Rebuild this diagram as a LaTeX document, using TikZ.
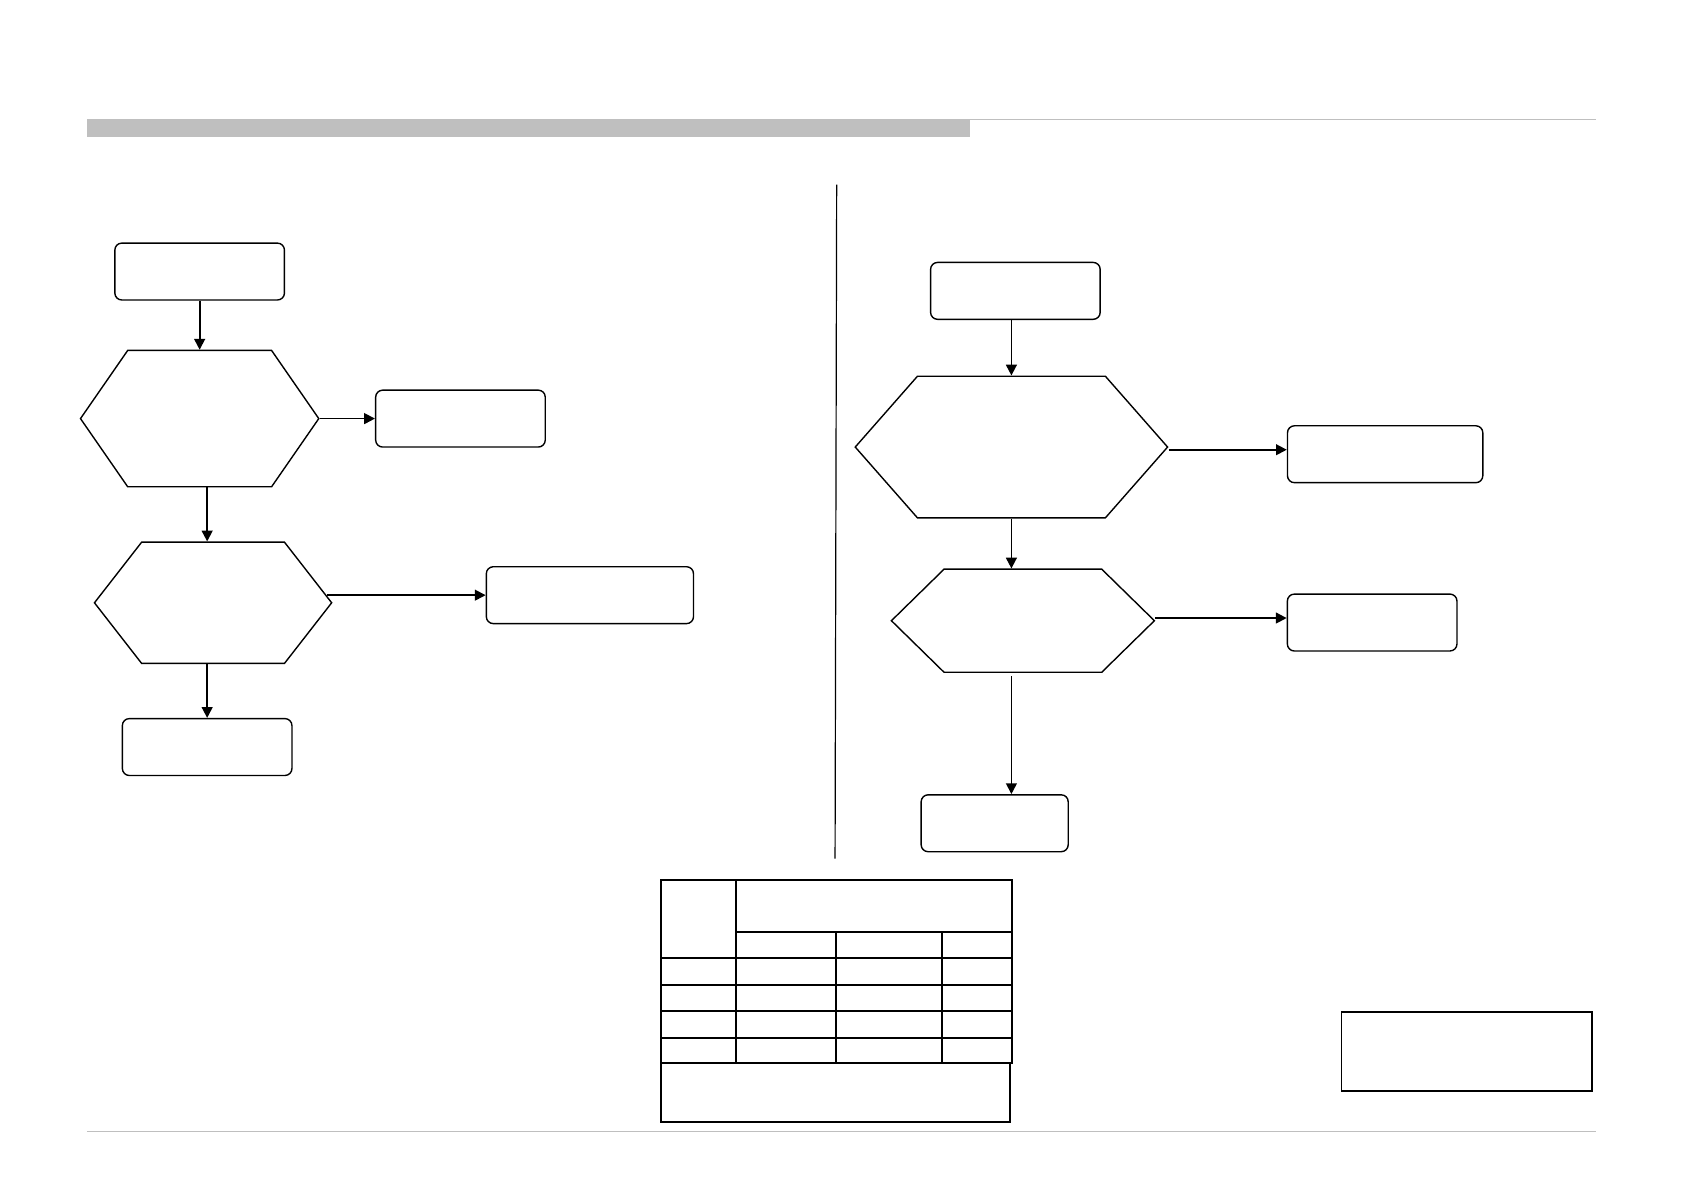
\documentclass[tikz,border=0pt]{standalone}
\usepackage{tikz}
\usetikzlibrary{shapes.symbols, positioning, arrows.meta, calc}
\newcommand{\unitpx}{0.018941cm}
\tikzset{
  block/.style={rectangle, rounded corners=3.5pt, draw=black, line width=0.7pt, minimum height=53*\unitpx},
  branch/.style={signal, signal to=east and west, draw=black, line width=0.7pt},
  arrow/.style={line width=0.9pt, -{Triangle[length=0.19cm, width=0.19cm]}},
  rule/.style={draw=black!25, line width=0.6pt},
  grid/.style={line width=1pt}
}

\begin{document}
\begin{tikzpicture}[x=\unitpx, y=-\unitpx]
        \useasboundingbox (0,0) rectangle (1568,1110);
        % page header and footer
        \fill[black!25] (81,111) rectangle (904,128);
        \draw[rule] (904,111) -- (1487,111);
        \draw[rule] (81,1054) -- (1487,1054);
        % divider
        \coordinate (divtop) at (779.5,172);
        \coordinate (divbot) at (778,800);
        \draw[line width=0.6pt] (divtop) -- (divbot);

        % left chart
        \node (startL) [block, minimum width=158*\unitpx] at (186,253) {};
        \node (testL) [branch, minimum width=222*\unitpx, minimum height=127*\unitpx, signal pointer angle=110.6] at (186,390) {};
        \node (outL) [block, minimum width=158*\unitpx] at (429,390) {};
        \node (test2L) [branch, minimum width=221*\unitpx, minimum height=113*\unitpx, signal pointer angle=104.2] at (198.5,561.6) {};
        \node (out2L) [block, minimum width=193*\unitpx] at (549.6,554.5) {};
        \node (endL) [block, minimum width=158*\unitpx] at (193,696) {};

        \draw [arrow] (startL) -- (testL);
        \draw [arrow] (testL.east) -- (outL.west);
        \draw [arrow] (testL.south -| endL.north) -- (test2L.north -| endL.north);
        \draw [arrow] ($(test2L.east |- out2L.west)+(-5,0)$) -- (out2L.west);
        \draw [arrow] (test2L.south -| endL.north) -- (endL.north);

        % right chart
        \node (startR) [block, minimum width=158*\unitpx] at (946,271) {};
        \node (testR) [branch, minimum width=291*\unitpx, minimum height=132*\unitpx, signal pointer angle=97.4] at (942.3,416.5) {};
        \node (outR) [block, minimum width=182*\unitpx] at (1290.5,423.2) {};
        \node (test2R) [branch, minimum width=245*\unitpx, minimum height=96*\unitpx, signal pointer angle=88.8] at (953,578.3) {};
        \node (out2R) [block, minimum width=158*\unitpx] at (1278.4,580) {};
        \node (endR) [block, minimum width=137*\unitpx] at (926.7,767) {};

        \draw [arrow] (startR.south -| testR.north) -- (testR.north);
        \draw [arrow] ($(testR.east)+(0,2.5)$) -- ($(outR.west |- testR.east)+(0,2.5)$);
        \draw [arrow] (testR.south) -- (testR.south |- test2R.north);
        \draw [arrow] ($(test2R.east)+(0,-2.5)$) -- ($(out2R.west |- test2R.east)+(0,-2.5)$);
        \draw [arrow] ($(test2R.south -| testR.south)+(0,3)$) -- (endR.north -| testR.south);

        % table
        \draw[grid] (615.6,819.9) rectangle (943.2,990.7);
        \draw[grid] (615.6,990.7) rectangle (941.1,1045.1);
        \draw[grid] (685.4,819.9) -- (685.4,990.7);
        \draw[grid] (685.4,868) -- (943.2,868);
        \foreach \x in {778.6,877.4}
            \draw[grid] (\x,868) -- (\x,990.7);
        \foreach \y in {892.3,917.4,942,966.8}
            \draw[grid] (615.6,\y) -- (943.2,\y);

        % note box
        \node (note) [draw, line width=0.8pt, inner sep=0pt, minimum width=233*\unitpx, minimum height=74*\unitpx] at (1366.5,979.7) {};
    \end{tikzpicture}
\end{document}
